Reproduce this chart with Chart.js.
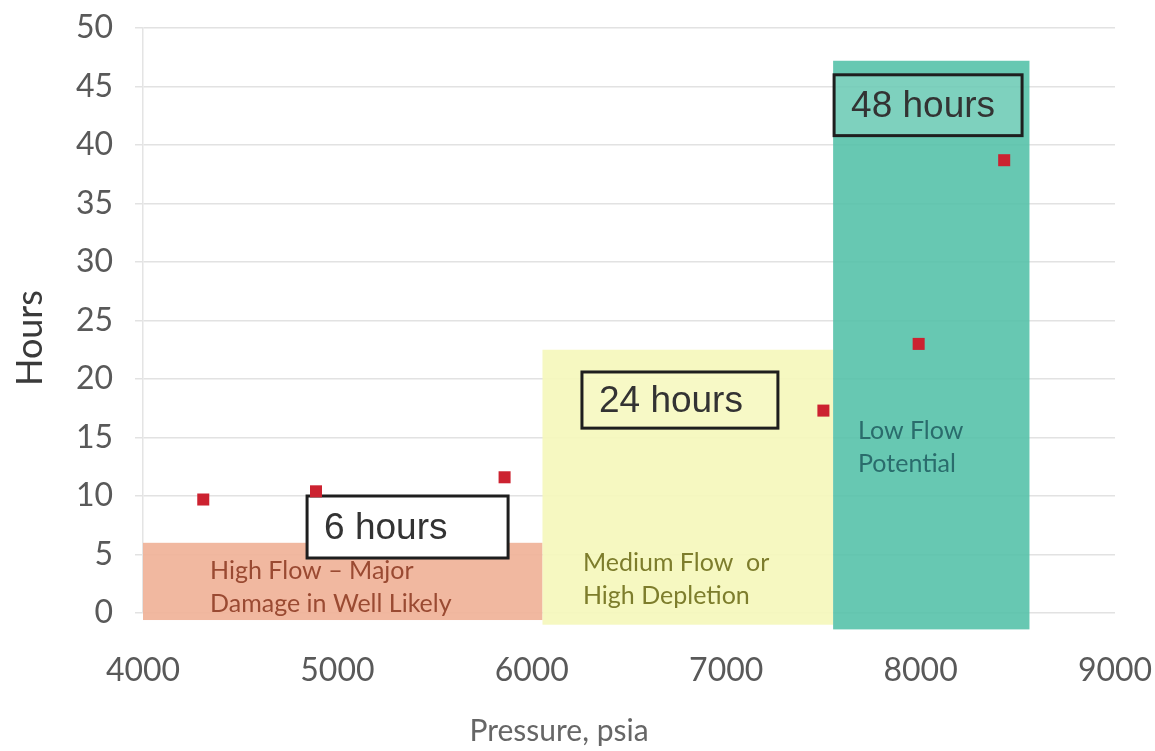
<!DOCTYPE html>
<html>
<head>
<meta charset="utf-8">
<script src="https://cdn.jsdelivr.net/npm/chart.js@4.4.1/dist/chart.umd.min.js"></script>
<style>
  html, body { margin: 0; padding: 0; background: #fff; overflow: hidden; }
  #wrap { width: 1155px; height: 751px; }
</style>
</head>
<body>
<div id="wrap"><canvas id="c"></canvas></div>
<script>
// measured points (pressure psia, hours)
const pressure = [4310, 4890, 5860, 7500, 7990, 8430];
const hours = [9.7, 10.4, 11.6, 17.3, 23.0, 38.7];

// shaded zones: x from / to, top and bottom in hours
const zoneFrom = [4000, 6055, 7550];
const zoneTo = [6055, 7550, 8560];
const zoneTop = [6.0, 22.5, 47.2];
const zoneBottom = [-0.6, -1.0, -1.4];
const zoneText = [
  ['High Flow \u2013 Major', 'Damage in Well Likely'],
  ['Medium Flow  or', 'High Depletion'],
  ['Low Flow', 'Potential']
];

// boxed labels
const boxText = ['6 hours', '24 hours', '48 hours'];

const xTicks = [4000, 5000, 6000, 7000, 8000, 9000];
const yTicks = [0, 5, 10, 15, 20, 25, 30, 35, 40, 45, 50];
const xTitle = 'Pressure, psia';
const yTitle = 'Hours';

// styling / placement of the annotation layer
const zoneFill = ['rgba(240,178,152,0.92)', 'rgba(245,247,188,0.92)', 'rgba(86,194,170,0.9)'];
const zoneInk = ['#9a4a32', '#7d7d2c', '#2a6c6c'];
const zoneTextAt = [[4345, 3.6], [6263, 4.3], [7678, 15.6]];
const boxAt = [[4844, 5878, 10.0, 4.7], [6258, 7266, 20.6, 15.8], [7555, 8522, 46.0, 40.8]];
const boxFill = ['#ffffff', 'rgba(255,255,255,0.08)', 'rgba(255,255,255,0.15)'];

const zonesPlugin = {
  id: 'zones',
  beforeDatasetsDraw(chart) {
    const { ctx, scales: { x, y } } = chart;
    ctx.save();
    for (let i = 0; i < zoneFrom.length; i++) {
      const l = x.getPixelForValue(zoneFrom[i]);
      const r = x.getPixelForValue(zoneTo[i]);
      const t = y.getPixelForValue(zoneTop[i]);
      const b = y.getPixelForValue(zoneBottom[i]);
      ctx.fillStyle = zoneFill[i];
      ctx.fillRect(l, t, r - l, b - t);
    }
    ctx.font = '25px Lato';
    ctx.textBaseline = 'middle';
    ctx.textAlign = 'left';
    zoneText.forEach((lines, i) => {
      const px = x.getPixelForValue(zoneTextAt[i][0]);
      const py = y.getPixelForValue(zoneTextAt[i][1]);
      ctx.fillStyle = zoneInk[i];
      lines.forEach((s, j) => ctx.fillText(s, px, py + j * 33));
    });
    boxText.forEach((s, i) => {
      const [x0, x1, y0, y1] = boxAt[i];
      const l = x.getPixelForValue(x0), r = x.getPixelForValue(x1);
      const t = y.getPixelForValue(y0), b = y.getPixelForValue(y1);
      ctx.fillStyle = boxFill[i];
      ctx.fillRect(l, t, r - l, b - t);
      ctx.lineWidth = 3;
      ctx.strokeStyle = '#1e1e1e';
      ctx.strokeRect(l, t, r - l, b - t);
      ctx.fillStyle = '#333';
      ctx.font = '37px "Liberation Sans"';
      ctx.fillText(s, l + 17, (t + b) / 2 + 2);
    });
    ctx.restore();
  },
  afterDraw(chart) {
    // axis titles sit a little off-centre in the original, so they are placed by hand
    const { ctx, chartArea: a } = chart;
    ctx.save();
    ctx.textAlign = 'center';
    ctx.textBaseline = 'middle';
    ctx.fillStyle = '#666';
    ctx.font = '30px Lato';
    ctx.fillText(xTitle, a.left + (a.right - a.left) * 0.428, a.bottom + 118);
    ctx.translate(30, a.top + (a.bottom - a.top) * 0.53);
    ctx.rotate(-Math.PI / 2);
    ctx.fillStyle = '#3a3a3a';
    ctx.font = '36px Lato';
    ctx.fillText(yTitle, 0, 0);
    ctx.restore();
  }
};

new Chart(document.getElementById('c'), {
  type: 'scatter',
  data: {
    datasets: [{
      label: 'Hours',
      data: pressure.map((p, i) => ({ x: p, y: hours[i] })),
      pointStyle: 'rect',
      pointRadius: 8.5,
      pointHoverRadius: 8.5,
      backgroundColor: '#cc2230',
      borderColor: '#cc2230',
      borderWidth: 0
    }]
  },
  options: {
    responsive: true,
    maintainAspectRatio: false,
    animation: false,
    layout: { padding: { top: 28, left: 0, right: 0, bottom: 0 } },
    plugins: { legend: { display: false }, tooltip: { enabled: false } },
    scales: {
      x: {
        type: 'linear',
        min: 4000, max: 9000,
        afterBuildTicks(s) { s.ticks = xTicks.map(v => ({ value: v })); },
        afterFit(s) { s.height = 138; s.paddingRight = 40; s.paddingLeft = 0; },
        grid: { display: false },
        border: { display: false },
        ticks: { font: { family: 'Lato', size: 32 }, color: '#595959', padding: 30, callback: v => String(v) },
        title: { display: false }
      },
      y: {
        min: 0, max: 50,
        afterBuildTicks(s) { s.ticks = yTicks.map(v => ({ value: v })); },
        afterFit(s) { s.width = 143; s.paddingTop = 0; s.paddingBottom = 0; },
        grid: { color: '#e2e2e2', lineWidth: 1.5, tickLength: 8 },
        border: { display: true, color: '#e4e4e4', width: 1.5 },
        ticks: { font: { family: 'Lato', size: 32 }, color: '#595959', padding: 22 },
        title: { display: false }
      }
    }
  },
  plugins: [zonesPlugin]
});
</script>
</body>
</html>
